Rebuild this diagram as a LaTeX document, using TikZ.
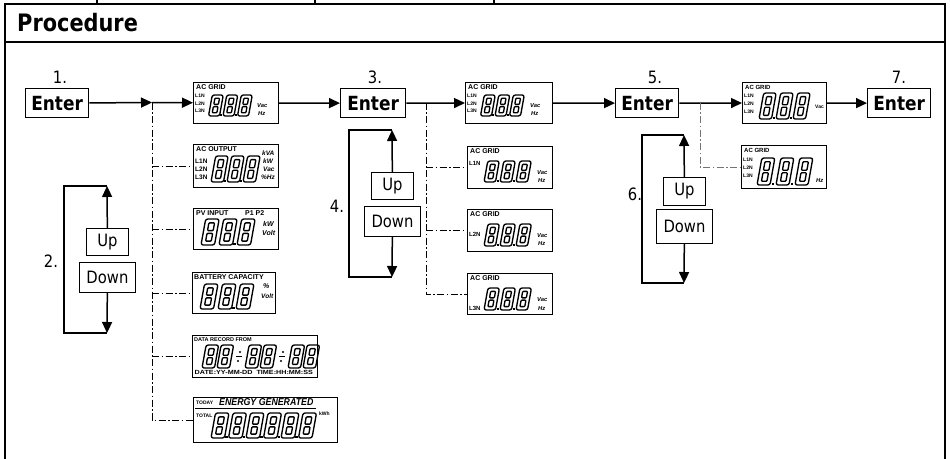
\documentclass[tikz,border=0pt]{standalone}
\usepackage{fontspec}
\setmainfont{DejaVu Sans}
\newfontfamily\lcdf{Liberation Sans}
\usetikzlibrary{arrows.meta}
\newcommand\sq[1]{\scalebox{0.87}[1]{#1}}
\newcommand\sdig[4]{%
  \begin{scope}[shift={({#1},{#2})},x=1pt,y=1pt,xslant=0.18]
    \pgfmathsetmacro\dgW{#3}%
    \pgfmathsetmacro\dgH{#4}%
    \pgfmathsetmacro\dgT{0.29*#3}%
    \pgfmathsetmacro\dgM{0.5*#4}%
    \draw[segline,rounded corners=2.2pt] (0,0) rectangle ({\dgW},{\dgH});
    \draw[segline,rounded corners=0.8pt] ({\dgT},{\dgT}) rectangle ({\dgW-\dgT},{\dgM-0.35*\dgT});
    \draw[segline,rounded corners=0.8pt] ({\dgT},{\dgM+0.35*\dgT}) rectangle ({\dgW-\dgT},{\dgH-\dgT});
  \end{scope}}
\newcommand\sdot[2]{\fill ({#1},{#2}) rectangle ++(2.4,-2.4);}
\newcommand\digrow[6]{\foreach \k in {1,...,#3}{\sdig{#1+(\k-1)*#6}{#2}{#4}{#5}}}
\newcommand\dotrow[6]{\digrow{#1}{#2}{#3}{#4}{#5}{#6}\foreach \k in {2,...,#3}{\sdot{#1+(\k-1)*#6-0.5*#6+0.5*#4-1.2}{#2}}}
\newcommand\divsep[2]{%
  \draw[line width=1.3pt] ({#1-3},{#2}) -- ({#1+3},{#2});
  \fill ({#1+1},{#2-4.5}) circle (1.2);
  \fill ({#1-1},{#2+4.5}) circle (1.2);}
\begin{document}
\begin{tikzpicture}[x=1pt,y=-1pt,
  frame/.style={line width=2.2pt},
  enterbox/.style={draw,line width=1.3pt,inner sep=0pt,anchor=north west,minimum width=63pt,minimum height=29pt,font=\bfseries\fontsize{19.5}{19.5}\selectfont},
  udbox/.style={draw,line width=0.9pt,inner sep=0pt,anchor=north west,font=\fontsize{17}{17}\selectfont},
  num/.style={inner sep=0pt,font=\fontsize{17}{17}\selectfont},
  lcd/.style={draw,line width=0.9pt,inner sep=0pt,anchor=north west},
  arr/.style={line width=1.5pt,-{Triangle[length=11pt,width=10pt]}},
  flow/.style={line width=1.2pt},
  dd/.style={line width=0.9pt,dash pattern=on 7pt off 2.5pt on 1.5pt off 2.5pt},
  segline/.style={line width=1.35pt,line join=round},
  lt/.style={inner sep=0pt,anchor=west,font=\lcdf\bfseries\fontsize{7}{7}\selectfont},
  ls/.style={inner sep=0pt,anchor=west,font=\lcdf\bfseries\fontsize{5.5}{5.5}\selectfont},
  lu/.style={inner sep=0pt,anchor=west,font=\lcdf\bfseries\itshape\fontsize{5.8}{5.8}\selectfont},
]
\useasboundingbox (0,0) rectangle (950,458);
% frame
\draw[frame] (5,470) -- (5,4) -- (945,4) -- (945,470);
\draw[frame] (5,42) -- (945,42);
\draw[line width=2pt] (97,0) -- (97,4) (315,0) -- (315,4) (494,0) -- (494,4);
\node[inner sep=0pt,anchor=west,font=\bfseries\fontsize{24}{24}\selectfont] (ttl) at (17,23) {\sq{Procedure}};

% Enter boxes and numbers
\node[enterbox] (e1) at (25,88) {\sq{Enter}};
\node[enterbox,minimum width=65pt] (e3) at (340,88) {\sq{Enter}};
\node[enterbox] (e5) at (615,88) {\sq{Enter}};
\node[enterbox] (e7) at (867,88) {\sq{Enter}};
\node[num] (n1) at (60,77) {\sq{1.}};
\node[num] (n3) at (375,77) {\sq{3.}};
\node[num] (n5) at (655,77) {\sq{5.}};
\node[num] (n7) at (899,77) {\sq{7.}};
\node[num] (n2) at (51,261) {\sq{2.}};
\node[num] (n4) at (337,206) {\sq{4.}};
\node[num] (n6) at (635,194) {\sq{6.}};

% Up / Down boxes
\node[udbox,minimum width=42pt,minimum height=27pt] (up2) at (86,228) {\sq{Up}};
\node[udbox,minimum width=56pt,minimum height=30pt] (down2) at (79,262) {\sq{Down}};
\node[udbox,minimum width=42pt,minimum height=27pt] (up4) at (371,172) {\sq{Up}};
\node[udbox,minimum width=56pt,minimum height=30pt] (down4) at (364,206) {\sq{Down}};
\node[udbox,minimum width=42pt,minimum height=28pt] (up6) at (663,177) {\sq{Up}};
\node[udbox,minimum width=56pt,minimum height=34pt] (down6) at (656,209) {\sq{Down}};

% ---------- LCD boxes ----------
% column 1 top
\node[lcd,minimum width=85pt,minimum height=41pt] (lcd1) at (193,82) {};
\begin{scope}[shift={(lcd1.north west)}]
  \node[lt] (lcd1-h) at (3,5.5) {AC GRID};
  \node[ls,font=\lcdf\bfseries\fontsize{5}{5}\selectfont] (lcd1-a) at (2,14) {L1N};
  \node[ls,font=\lcdf\bfseries\fontsize{5}{5}\selectfont] (lcd1-b) at (2,21.5) {L2N};
  \node[ls,font=\lcdf\bfseries\fontsize{5}{5}\selectfont] (lcd1-c) at (2,29) {L3N};
  \dotrow{15.5}{34}{3}{11}{21}{14.5}
  \node[lu] (lcd1-u) at (64,24) {Vac};
  \node[lu] (lcd1-v) at (65,31.5) {Hz};
\end{scope}
% AC OUTPUT
\node[lcd,minimum width=85pt,minimum height=43pt] (lcdO) at (193,144) {};
\begin{scope}[shift={(lcdO.north west)}]
  \node[lt] (lcdO-h) at (3,5) {AC OUTPUT};
  \node[ls,font=\lcdf\bfseries\fontsize{6.5}{6.5}\selectfont] (lcdO-a) at (2,17) {L1N};
  \node[ls,font=\lcdf\bfseries\fontsize{6.5}{6.5}\selectfont] (lcdO-b) at (2,25) {L2N};
  \node[ls,font=\lcdf\bfseries\fontsize{6.5}{6.5}\selectfont] (lcdO-c) at (2,33) {L3N};
  \dotrow{18}{38}{3}{12.5}{26}{16}
  \node[lu,font=\lcdf\bfseries\itshape\fontsize{6.5}{6.5}\selectfont] (lcdO-u1) at (69,9) {kVA};
  \node[lu,font=\lcdf\bfseries\itshape\fontsize{6.5}{6.5}\selectfont] (lcdO-u2) at (70,17) {kW};
  \node[lu,font=\lcdf\bfseries\itshape\fontsize{6.5}{6.5}\selectfont] (lcdO-u3) at (70,25) {Vac};
  \node[lu,font=\lcdf\bfseries\itshape\fontsize{6.5}{6.5}\selectfont] (lcdO-u4) at (68,33) {\%Hz};
\end{scope}
% PV INPUT
\node[lcd,minimum width=85pt,minimum height=41pt] (lcdP) at (193,208) {};
\begin{scope}[shift={(lcdP.north west)}]
  \node[lt] (lcdP-h) at (3,5) {PV INPUT};
  \node[lt] (lcdP-p) at (52,5) {P1 P2};
  \digrow{8}{37}{3}{13.5}{26}{18}
  \sdot{40.4}{37}
  \node[lu,font=\lcdf\bfseries\itshape\fontsize{7}{7}\selectfont] (lcdP-u1) at (70,16) {kW};
  \node[lu,font=\lcdf\bfseries\itshape\fontsize{7}{7}\selectfont] (lcdP-u2) at (69,25) {Volt};
\end{scope}
% BATTERY CAPACITY
\node[lcd,minimum width=83pt,minimum height=41pt] (lcdB) at (192,272) {};
\begin{scope}[shift={(lcdB.north west)}]
  \node[lt] (lcdB-h) at (2,5) {BATTERY CAPACITY};
  \digrow{8}{37}{3}{13.5}{25}{18}
  \sdot{40.4}{37}
  \node[lu,font=\lcdf\bfseries\itshape\fontsize{7}{7}\selectfont] (lcdB-u1) at (71,14) {\%};
  \node[lu,font=\lcdf\bfseries\itshape\fontsize{6.5}{6.5}\selectfont] (lcdB-u2) at (69,24) {Volt};
\end{scope}
% DATA RECORD
\node[lcd,minimum width=125pt,minimum height=42pt] (lcdD) at (192,335) {};
\begin{scope}[shift={(lcdD.north west)}]
  \node[lt,font=\lcdf\bfseries\fontsize{5.5}{5.5}\selectfont] (lcdD-h) at (2,5) {DATA RECORD FROM};
  \digrow{10}{33}{2}{12.5}{23}{15}
  \digrow{53}{33}{2}{12.5}{23}{15}
  \digrow{96}{33}{2}{12.5}{23}{15}
  \divsep{47}{21.5}
  \divsep{90}{21.5}
  \node[lt,font=\lcdf\bfseries\fontsize{6}{6}\selectfont] (lcdD-f) at (2.5,37.5) {\scalebox{1.2}[1]{DATE:YY-MM-DD\ \ TIME:HH:MM:SS}};
\end{scope}
% ENERGY GENERATED
\node[lcd,minimum width=144pt,minimum height=45pt] (lcdE) at (193,397) {};
\begin{scope}[shift={(lcdE.north west)}]
  \node[lt,font=\lcdf\bfseries\fontsize{5}{5}\selectfont] (lcdE-t) at (3,5.5) {TODAY};
  \node[lt,font=\lcdf\bfseries\itshape\fontsize{10}{10}\selectfont] (lcdE-g) at (26,5.5) {\scalebox{0.88}[1]{ENERGY GENERATED}};
  \draw[line width=0.8pt] (2,11.5) -- (123,11.5);
  \node[lt,font=\lcdf\bfseries\fontsize{5}{5}\selectfont] (lcdE-o) at (3,19) {TOTAL};
  \dotrow{18}{41}{6}{13.5}{25}{17.5}
  \node[lu,font=\lcdf\bfseries\fontsize{5}{5}\selectfont] (lcdE-k) at (126,17) {kWh};
\end{scope}

% column 3
\node[lcd,minimum width=87pt,minimum height=41pt] (lcd3a) at (465,82) {};
\begin{scope}[shift={(lcd3a.north west)}]
  \node[lt] (lcd3a-h) at (3,5.5) {AC GRID};
  \node[ls,font=\lcdf\bfseries\fontsize{5}{5}\selectfont] (lcd3a-a) at (2,14) {L1N};
  \node[ls,font=\lcdf\bfseries\fontsize{5}{5}\selectfont] (lcd3a-b) at (2,21.5) {L2N};
  \node[ls,font=\lcdf\bfseries\fontsize{5}{5}\selectfont] (lcd3a-c) at (2,29) {L3N};
  \dotrow{15.5}{34}{3}{11}{21}{14.5}
  \node[lu] (lcd3a-u) at (65,24) {Vac};
  \node[lu] (lcd3a-v) at (66,31.5) {Hz};
\end{scope}
\node[lcd,minimum width=85pt,minimum height=42pt] (lcd3b) at (467,146) {};
\begin{scope}[shift={(lcd3b.north west)}]
  \node[lt] (lcd3b-h) at (3,5.5) {AC GRID};
  \node[ls,font=\lcdf\bfseries\fontsize{6}{6}\selectfont] (lcd3b-a) at (2,17) {L1N};
  \dotrow{17}{36}{3}{11.5}{21}{16}
  \node[lu] (lcd3b-u) at (70,27) {Vac};
  \node[lu] (lcd3b-v) at (71,35) {Hz};
\end{scope}
\node[lcd,minimum width=85pt,minimum height=42pt] (lcd3c) at (467,209) {};
\begin{scope}[shift={(lcd3c.north west)}]
  \node[lt] (lcd3c-h) at (3,5.5) {AC GRID};
  \node[ls,font=\lcdf\bfseries\fontsize{6}{6}\selectfont] (lcd3c-a) at (2,25) {L2N};
  \dotrow{17}{37}{3}{11.5}{22}{16}
  \node[lu] (lcd3c-u) at (70,27) {Vac};
  \node[lu] (lcd3c-v) at (71,35) {Hz};
\end{scope}
\node[lcd,minimum width=85pt,minimum height=41pt] (lcd3d) at (467,273) {};
\begin{scope}[shift={(lcd3d.north west)}]
  \node[lt] (lcd3d-h) at (3,5.5) {AC GRID};
  \node[ls,font=\lcdf\bfseries\fontsize{6}{6}\selectfont] (lcd3d-a) at (2,35) {L3N};
  \dotrow{17}{37}{3}{11.5}{22}{16}
  \node[lu] (lcd3d-u) at (70,27) {Vac};
  \node[lu] (lcd3d-v) at (71,35) {Hz};
\end{scope}

% column 5
\node[lcd,minimum width=84pt,minimum height=41pt] (lcd5a) at (742,82) {};
\begin{scope}[shift={(lcd5a.north west)}]
  \node[lt,font=\lcdf\bfseries\fontsize{6}{6}\selectfont] (lcd5a-h) at (3,5) {AC GRID};
  \node[ls,font=\lcdf\bfseries\fontsize{5}{5}\selectfont] (lcd5a-a) at (2,14) {L1N};
  \node[ls,font=\lcdf\bfseries\fontsize{5}{5}\selectfont] (lcd5a-b) at (2,22) {L2N};
  \node[ls,font=\lcdf\bfseries\fontsize{5}{5}\selectfont] (lcd5a-c) at (2,30) {L3N};
  \dotrow{17}{37}{3}{12.5}{26}{17}
  \node[lu,font=\lcdf\bfseries\fontsize{5}{5}\selectfont] (lcd5a-u) at (73,25) {Vac};
\end{scope}
\node[lcd,minimum width=85pt,minimum height=43pt] (lcd5b) at (741,145) {};
\begin{scope}[shift={(lcd5b.north west)}]
  \node[lt,font=\lcdf\bfseries\fontsize{6}{6}\selectfont] (lcd5b-h) at (3,5) {AC GRID};
  \node[ls,font=\lcdf\bfseries\fontsize{5}{5}\selectfont] (lcd5b-a) at (2,15) {L1N};
  \node[ls,font=\lcdf\bfseries\fontsize{5}{5}\selectfont] (lcd5b-b) at (2,23) {L2N};
  \node[ls,font=\lcdf\bfseries\fontsize{5}{5}\selectfont] (lcd5b-c) at (2,31) {L3N};
  \dotrow{16}{40}{3}{13}{27}{19}
  \node[lu] (lcd5b-u) at (75,36) {Hz};
\end{scope}

% ---------- connectors ----------
\coordinate (j1) at (152,102.5);
\coordinate (j3) at (426,102.5);
\coordinate (j5) at (700,102.5);
\draw[arr] (e1) -- (j1);
\draw[arr] (j1) -- (lcd1);
\draw[arr] (lcd1) -- (e3);
\draw[arr] (e3) -- (lcd3a);
\draw[arr] (lcd3a) -- (e5);
\draw[arr] (e5) -- (lcd5a);
\draw[arr] (lcd5a) -- (e7);

% dash-dot branches
\draw[dd] (j1) |- (lcdE.west);
\draw[dd] (lcdO.west -| j1) -- (lcdO.west);
\draw[dd] (lcdP.west -| j1) -- (lcdP.west);
\draw[dd] (lcdB.west -| j1) -- (lcdB.west);
\draw[dd] (lcdD.west -| j1) -- (lcdD.west);
\draw[dd] (j3) |- (lcd3d.west);
\draw[dd] (lcd3b.west -| j3) -- (lcd3b.west);
\draw[dd] (lcd3c.west -| j3) -- (lcd3c.west);
\draw[dd,black!55] (j5) |- (lcd5b.west);

% up/down loops
\coordinate (t2) at (107,186);  \coordinate (b2) at (107,333);
\coordinate (tl2) at (64,186);  \coordinate (bl2) at (64,333);
\draw[arr] (up2) -- (t2);
\draw[arr] (down2) -- (b2);
\draw[flow] (t2) -- (tl2) -- (bl2) -- (b2);
\coordinate (t4) at (392,130);  \coordinate (b4) at (392,277);
\coordinate (tl4) at (349,130); \coordinate (bl4) at (349,277);
\draw[arr] (up4) -- (t4);
\draw[arr] (down4) -- (b4);
\draw[flow] (t4) -- (tl4) -- (bl4) -- (b4);
\coordinate (t6) at (684,135);  \coordinate (b6) at (684,283);
\coordinate (tl6) at (642,135); \coordinate (bl6) at (642,283);
\draw[arr] (up6) -- (t6);
\draw[arr] (down6) -- (b6);
\draw[flow] (t6) -- (tl6) -- (bl6) -- (b6);
\end{tikzpicture}
\end{document}
